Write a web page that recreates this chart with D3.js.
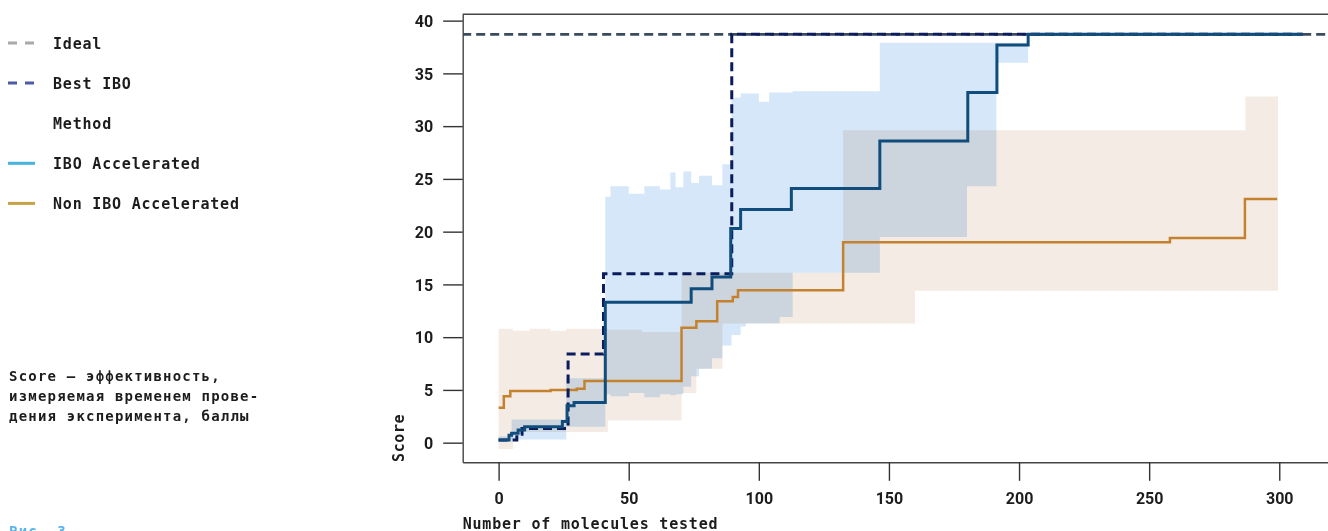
<!DOCTYPE html>
<html>
<head>
<meta charset="utf-8">
<script src="https://cdn.jsdelivr.net/npm/d3@7"></script>
<style>
  body { margin: 0; background: #fff; }
  svg { display: block; }
  .mono { font-family: "DejaVu Sans Mono", monospace; font-weight: bold; fill: #1c1c1c; }
  .tick text { font-family: Roboto, "Liberation Sans", sans-serif; font-weight: bold; font-size: 16px; fill: #1c1c1c; }
  .band { mix-blend-mode: multiply; }
</style>
</head>
<body>
<script>
  // data
  const xTicks = [0, 50, 100, 150, 200, 250, 300];
  const yTicks = [0, 5, 10, 15, 20, 25, 30, 35, 40];

  const idealScore = 38.7;
  const idealRange = [-14, 320];

  // [molecules, score]
  const bestIbo = [[0, 0.25], [7, 0.8], [9, 1.35], [26.7, 8.4], [40.3, 16.0], [89.6, 38.7], [309, 38.7]];

  const iboMean = [[0, 0.25], [4, 0.7], [5, 0.9], [7.5, 1.2], [10, 1.5], [24.5, 2.0], [26.3, 3.5], [29, 3.8],
    [41, 13.3], [74, 14.6], [82, 15.7], [89.2, 20.3], [93, 22.1], [112.5, 24.1], [146.5, 28.6],
    [180.3, 33.2], [191.5, 37.7], [203.5, 38.7], [309, 38.7]];

  const nonIboMean = [[0, 3.3], [2, 4.4], [4.5, 4.9], [20, 5.0], [30, 5.1], [33, 5.85], [70.3, 10.9],
    [76, 11.5], [84, 13.4], [90, 13.8], [92, 14.45], [132.4, 19.0], [258, 19.4], [286.8, 23.1], [299.2, 23.1]];

  // [molecules, lower, upper]
  const iboBand = [[0, 0.1, 0.6], [5, 0.3, 2.2], [26, 1.5, 6.1], [41, 4.6, 23.3], [43, 4.4, 24.3],
    [50, 4.7, 23.6], [56, 4.3, 24.3], [62, 4.6, 24.0], [66, 4.5, 25.6], [68, 4.6, 24.2], [71, 5.3, 25.7],
    [74, 6.3, 24.6], [77, 7.0, 25.3], [82, 8.0, 24.4], [86, 9.2, 26.4], [89.5, 10.2, 32.7], [93, 11.0, 33.1],
    [95, 11.3, 33.1], [100, 11.3, 32.3], [104, 11.3, 33.2], [108, 11.9, 33.2], [113, 16.1, 33.3],
    [146.5, 19.5, 37.9], [180, 24.3, 37.9], [191.3, 36.0, 37.9], [203.5, 36.0, 37.9]];

  const nonIboBand = [[0, -0.6, 10.8], [5.5, 1.0, 10.6], [12, 1.0, 10.8], [20, 1.0, 10.6], [26, 1.0, 10.8],
    [42, 2.1, 10.7], [55, 2.1, 10.5], [70.3, 4.7, 16.1], [76, 7.0, 16.1], [86, 11.3, 16.1],
    [132.4, 11.3, 29.6], [160, 14.4, 29.6], [287, 14.4, 32.8], [299.5, 14.4, 32.8]];

  const legendItems = [
    { label: 'Ideal', color: '#a9a9a9', dash: '9,8' },
    { label: 'Best IBO', color: '#4d5ba8', dash: '9,8' },
    { label: 'Method', color: null },
    { label: 'IBO Accelerated', color: '#45b3dd', dash: null },
    { label: 'Non IBO Accelerated', color: '#c6a445', dash: null }
  ];

  const noteLines = ['Score — эффективность,', 'измеряемая временем прове-', 'дения эксперимента, баллы'];

  const width = 1328;
  const height = 531;

  const svg = d3.select('body')
          .append('svg')
          .attr('width', width)
          .attr('height', height);

  const x = d3.scaleLinear().domain([-13.8, 319.5]).range([462.7, 1330]);
  const y = d3.scaleLinear().domain([-1.86, 40.6]).range([462.3, 14.3]);

  svg.append('clipPath').attr('id', 'plot')
          .append('rect')
          .attr('x', 463).attr('y', 15)
          .attr('width', width - 463).attr('height', 447);

  const plot = svg.append('g').attr('clip-path', 'url(#plot)');

  const band = d3.area()
          .curve(d3.curveStepAfter)
          .x(d => x(d[0]))
          .y0(d => y(d[1]))
          .y1(d => y(d[2]));

  plot.append('path').attr('class', 'band')
          .attr('d', band(nonIboBand))
          .attr('fill', '#f4ebe4');

  plot.append('path').attr('class', 'band')
          .attr('d', band(iboBand))
          .attr('fill', '#d5e7f8');

  const line = d3.line()
          .curve(d3.curveStepAfter)
          .x(d => x(d[0]))
          .y(d => y(d[1]));

  plot.append('path')
          .attr('d', line(nonIboMean))
          .attr('fill', 'none')
          .attr('stroke', '#c4822e')
          .attr('stroke-width', 2.5);

  plot.append('line')
          .attr('x1', x(idealRange[0])).attr('x2', x(idealRange[1]))
          .attr('y1', y(idealScore)).attr('y2', y(idealScore))
          .attr('stroke', '#3b4b5e')
          .attr('stroke-width', 2.6)
          .attr('stroke-dasharray', '9,5');

  plot.append('path')
          .attr('d', line(bestIbo))
          .attr('fill', 'none')
          .attr('stroke', '#0b1c5c')
          .attr('stroke-width', 3)
          .attr('stroke-dasharray', '9,5');

  plot.append('path')
          .attr('d', line(iboMean))
          .attr('fill', 'none')
          .attr('stroke', '#114d7c')
          .attr('stroke-width', 3);

  // axes, R-style box open to the right
  const xAxis = svg.append('g')
          .attr('transform', `translate(0,${y.range()[0]})`)
          .call(d3.axisBottom(x).tickValues(xTicks).tickSize(18.5).tickPadding(6).tickSizeOuter(0));
  const yAxis = svg.append('g')
          .attr('transform', `translate(${x.range()[0]},0)`)
          .call(d3.axisLeft(y).tickValues(yTicks).tickSize(19.5).tickPadding(10).tickSizeOuter(0));

  [xAxis, yAxis].forEach(g => {
    g.select('.domain').attr('stroke', '#444').attr('stroke-width', 1.4);
    g.selectAll('.tick line').attr('stroke', '#333').attr('stroke-width', 1.4);
  });
  xAxis.selectAll('.tick text').attr('dy', '1.1em');
  yAxis.selectAll('.tick text').attr('dy', '0.36em');

  svg.append('line')
          .attr('x1', x.range()[0]).attr('x2', width)
          .attr('y1', y.range()[1]).attr('y2', y.range()[1])
          .attr('stroke', '#444').attr('stroke-width', 1.4);

  svg.append('text').attr('class', 'mono')
          .attr('x', 462.7).attr('y', 528.5)
          .attr('font-size', '15px')
          .attr('letter-spacing', '0.8px')
          .text('Number of molecules tested');

  svg.append('text').attr('class', 'mono')
          .attr('transform', 'translate(404,462) rotate(-90)')
          .attr('font-size', '15px')
          .attr('letter-spacing', '0.6px')
          .text('Score');

  // legend
  const legend = svg.append('g')
          .selectAll('g')
          .data(legendItems)
          .enter()
          .append('g')
          .attr('transform', (d, i) => `translate(0,${48.5 + i * 40.1})`);

  legend.filter(d => d.color)
          .append('line')
          .attr('x1', 8).attr('x2', 35)
          .attr('y1', -5.5).attr('y2', -5.5)
          .attr('stroke', d => d.color)
          .attr('stroke-width', 3)
          .attr('stroke-dasharray', d => d.dash);

  legend.append('text').attr('class', 'mono')
          .attr('x', 53)
          .attr('font-size', '15px')
          .attr('letter-spacing', '0.8px')
          .text(d => d.label);

  svg.append('g')
          .selectAll('text')
          .data(noteLines)
          .enter()
          .append('text').attr('class', 'mono')
          .attr('x', 9)
          .attr('y', (d, i) => 380.5 + i * 20)
          .attr('font-size', '14px')
          .attr('letter-spacing', '1.2px')
          .text(d => d);

  svg.append('text')
          .attr('x', 9).attr('y', 535.5)
          .attr('font-family', '"DejaVu Sans Mono", monospace')
          .attr('font-weight', 'bold')
          .attr('font-size', '14px')
          .attr('letter-spacing', '1.2px')
          .attr('fill', '#5ab3ea')
          .text('Рис. 3');
</script>
</body>
</html>
